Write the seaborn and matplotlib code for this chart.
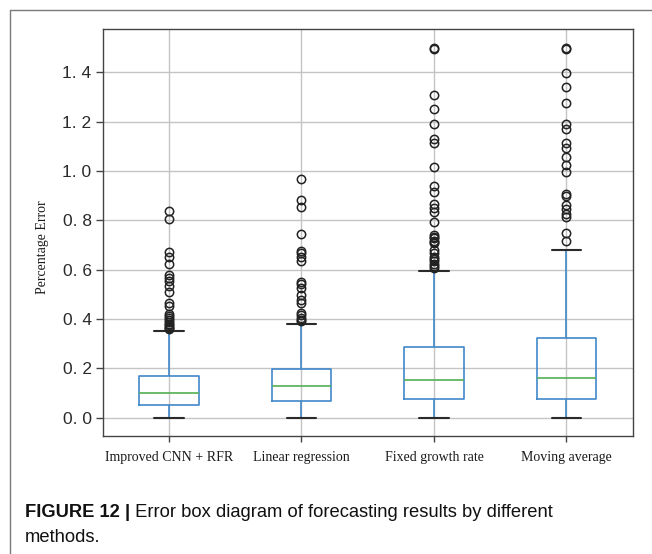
import numpy as np
import pandas as pd
import matplotlib
matplotlib.use("Agg")
import matplotlib.pyplot as plt
from matplotlib.lines import Line2D
import seaborn as sns

# ---------------- data ----------------
methods = ["Improved CNN + RFR", "Linear regression", "Fixed growth rate", "Moving average"]
whisker_low = [0.0, 0.0, 0.0, 0.0]
q1 = [0.050, 0.068, 0.078, 0.074]
median = [0.099, 0.130, 0.154, 0.162]
q3 = [0.170, 0.196, 0.288, 0.322]
whisker_high = [0.350, 0.382, 0.596, 0.682]

outliers_cnn = [0.839, 0.805, 0.670, 0.650, 0.622, 0.577, 0.566, 0.554, 0.535, 0.508,
                0.464, 0.454, 0.420, 0.414, 0.405, 0.398, 0.389, 0.382, 0.375, 0.369,
                0.362, 0.358]
outliers_lr = [0.969, 0.882, 0.854, 0.745, 0.677, 0.666, 0.653, 0.636, 0.551, 0.542,
               0.527, 0.496, 0.476, 0.466, 0.423, 0.415, 0.405, 0.398, 0.392]
outliers_fgr = [1.497, 1.495, 1.308, 1.250, 1.190, 1.131, 1.112, 1.018, 0.941, 0.916,
                0.866, 0.849, 0.835, 0.792, 0.741, 0.733, 0.727, 0.718, 0.712, 0.707,
                0.680, 0.666, 0.650, 0.643, 0.636, 0.623, 0.616, 0.609]
outliers_ma = [1.497, 1.495, 1.399, 1.339, 1.278, 1.190, 1.172, 1.112, 1.092, 1.057,
               1.024, 0.996, 0.909, 0.900, 0.862, 0.845, 0.826, 0.812, 0.750, 0.715]
outliers = [outliers_cnn, outliers_lr, outliers_fgr, outliers_ma]

yticks = [0.0, 0.2, 0.4, 0.6, 0.8, 1.0, 1.2, 1.4]
ytick_labels = ["0. 0", "0. 2", "0. 4", "0. 6", "0. 8", "1. 0", "1. 2", "1. 4"]

caption_bold = "FIGURE 12 |"
caption_rest = " Error box diagram of forecasting results by different"
caption_line2 = "methods."

# Build a sample per method whose box statistics equal the values read above
# (each summary value weighted equally, plus the individual outliers).
REP = 200
rows = []
for i, m in enumerate(methods):
    summary = [whisker_low[i], q1[i], median[i], q3[i], whisker_high[i]]
    for v in summary:
        rows.extend([(m, v)] * REP)
    for v in outliers[i]:
        rows.append((m, v))
df = pd.DataFrame(rows, columns=["method", "value"])

# ---------------- figure ----------------
sns.set_style("white")
W, H = 652, 554
fig = plt.figure(figsize=(W / 100, H / 100), dpi=100)
fig.patch.set_facecolor("white")

ax = fig.add_axes([102.7 / W, 1 - 436 / H, (632.7 - 102.7) / W, (436 - 29) / H])

blue = "#4189c8"
green = "#52b052"
sns.boxplot(
    data=df, x="method", y="value", order=methods, ax=ax,
    fill=False, color=blue, width=0.45, linewidth=1.2, whis=1.5,
    boxprops=dict(color=blue, linewidth=1.2),
    whiskerprops=dict(color=blue, linewidth=1.2),
    medianprops=dict(color=green, linewidth=1.2),
    capprops=dict(color="#2a2a2a", linewidth=1.5),
    flierprops=dict(marker="o", markerfacecolor="none", markeredgecolor="#222222",
                    markersize=6, markeredgewidth=1.1),
)

ax.set_xlim(-0.5, 3.5)
ax.set_ylim(-0.074, 1.576)
ax.set_yticks(yticks)
ax.set_yticklabels(ytick_labels, fontfamily="Liberation Sans", fontsize=12.5,
                   color="#2a2a2a")
ax.set_xticks(range(len(methods)))
ax.set_xticklabels(methods, fontfamily="Liberation Serif", fontsize=10, color="#1a1a1a")
ax.set_xlabel("")
ax.set_ylabel("Percentage Error", fontfamily="Liberation Serif", fontsize=10, color="#1a1a1a")
ax.yaxis.set_label_coords(-0.102, 0.463)

ax.grid(True, color="#c4c4c4", linewidth=1.0)
ax.set_axisbelow(True)
for s in ax.spines.values():
    s.set_visible(True)
    s.set_color("#444444")
    s.set_linewidth(1.0)
ax.tick_params(axis="y", direction="out", length=5, width=1, color="#444444", pad=3, left=True)
ax.tick_params(axis="x", direction="out", length=4, width=1, color="#444444", pad=7, bottom=True)

# outer figure frame (left and top edges)
fig.add_artist(Line2D([10 / W, 10 / W], [0, 1 - 10 / H], transform=fig.transFigure,
                      color="#7a7a7a", linewidth=1.0))
fig.add_artist(Line2D([10 / W, 1], [1 - 10 / H, 1 - 10 / H], transform=fig.transFigure,
                      color="#7a7a7a", linewidth=1.0))

# caption
t1 = fig.text(25 / W, 1 - 516.7 / H, caption_bold, fontfamily="Liberation Sans",
              fontweight="bold", fontsize=13.2, color="#111111", va="baseline", ha="left")
fig.canvas.draw()
bb = t1.get_window_extent(renderer=fig.canvas.get_renderer())
fig.text(bb.x1 / W, 1 - 516.7 / H, caption_rest, fontfamily="Liberation Sans",
         fontsize=13.2, color="#111111", va="baseline", ha="left")
fig.text(25 / W, 1 - 541.7 / H, caption_line2, fontfamily="Liberation Sans",
         fontsize=13.2, color="#111111", va="baseline", ha="left")

fig.savefig("out.png", dpi=100)
